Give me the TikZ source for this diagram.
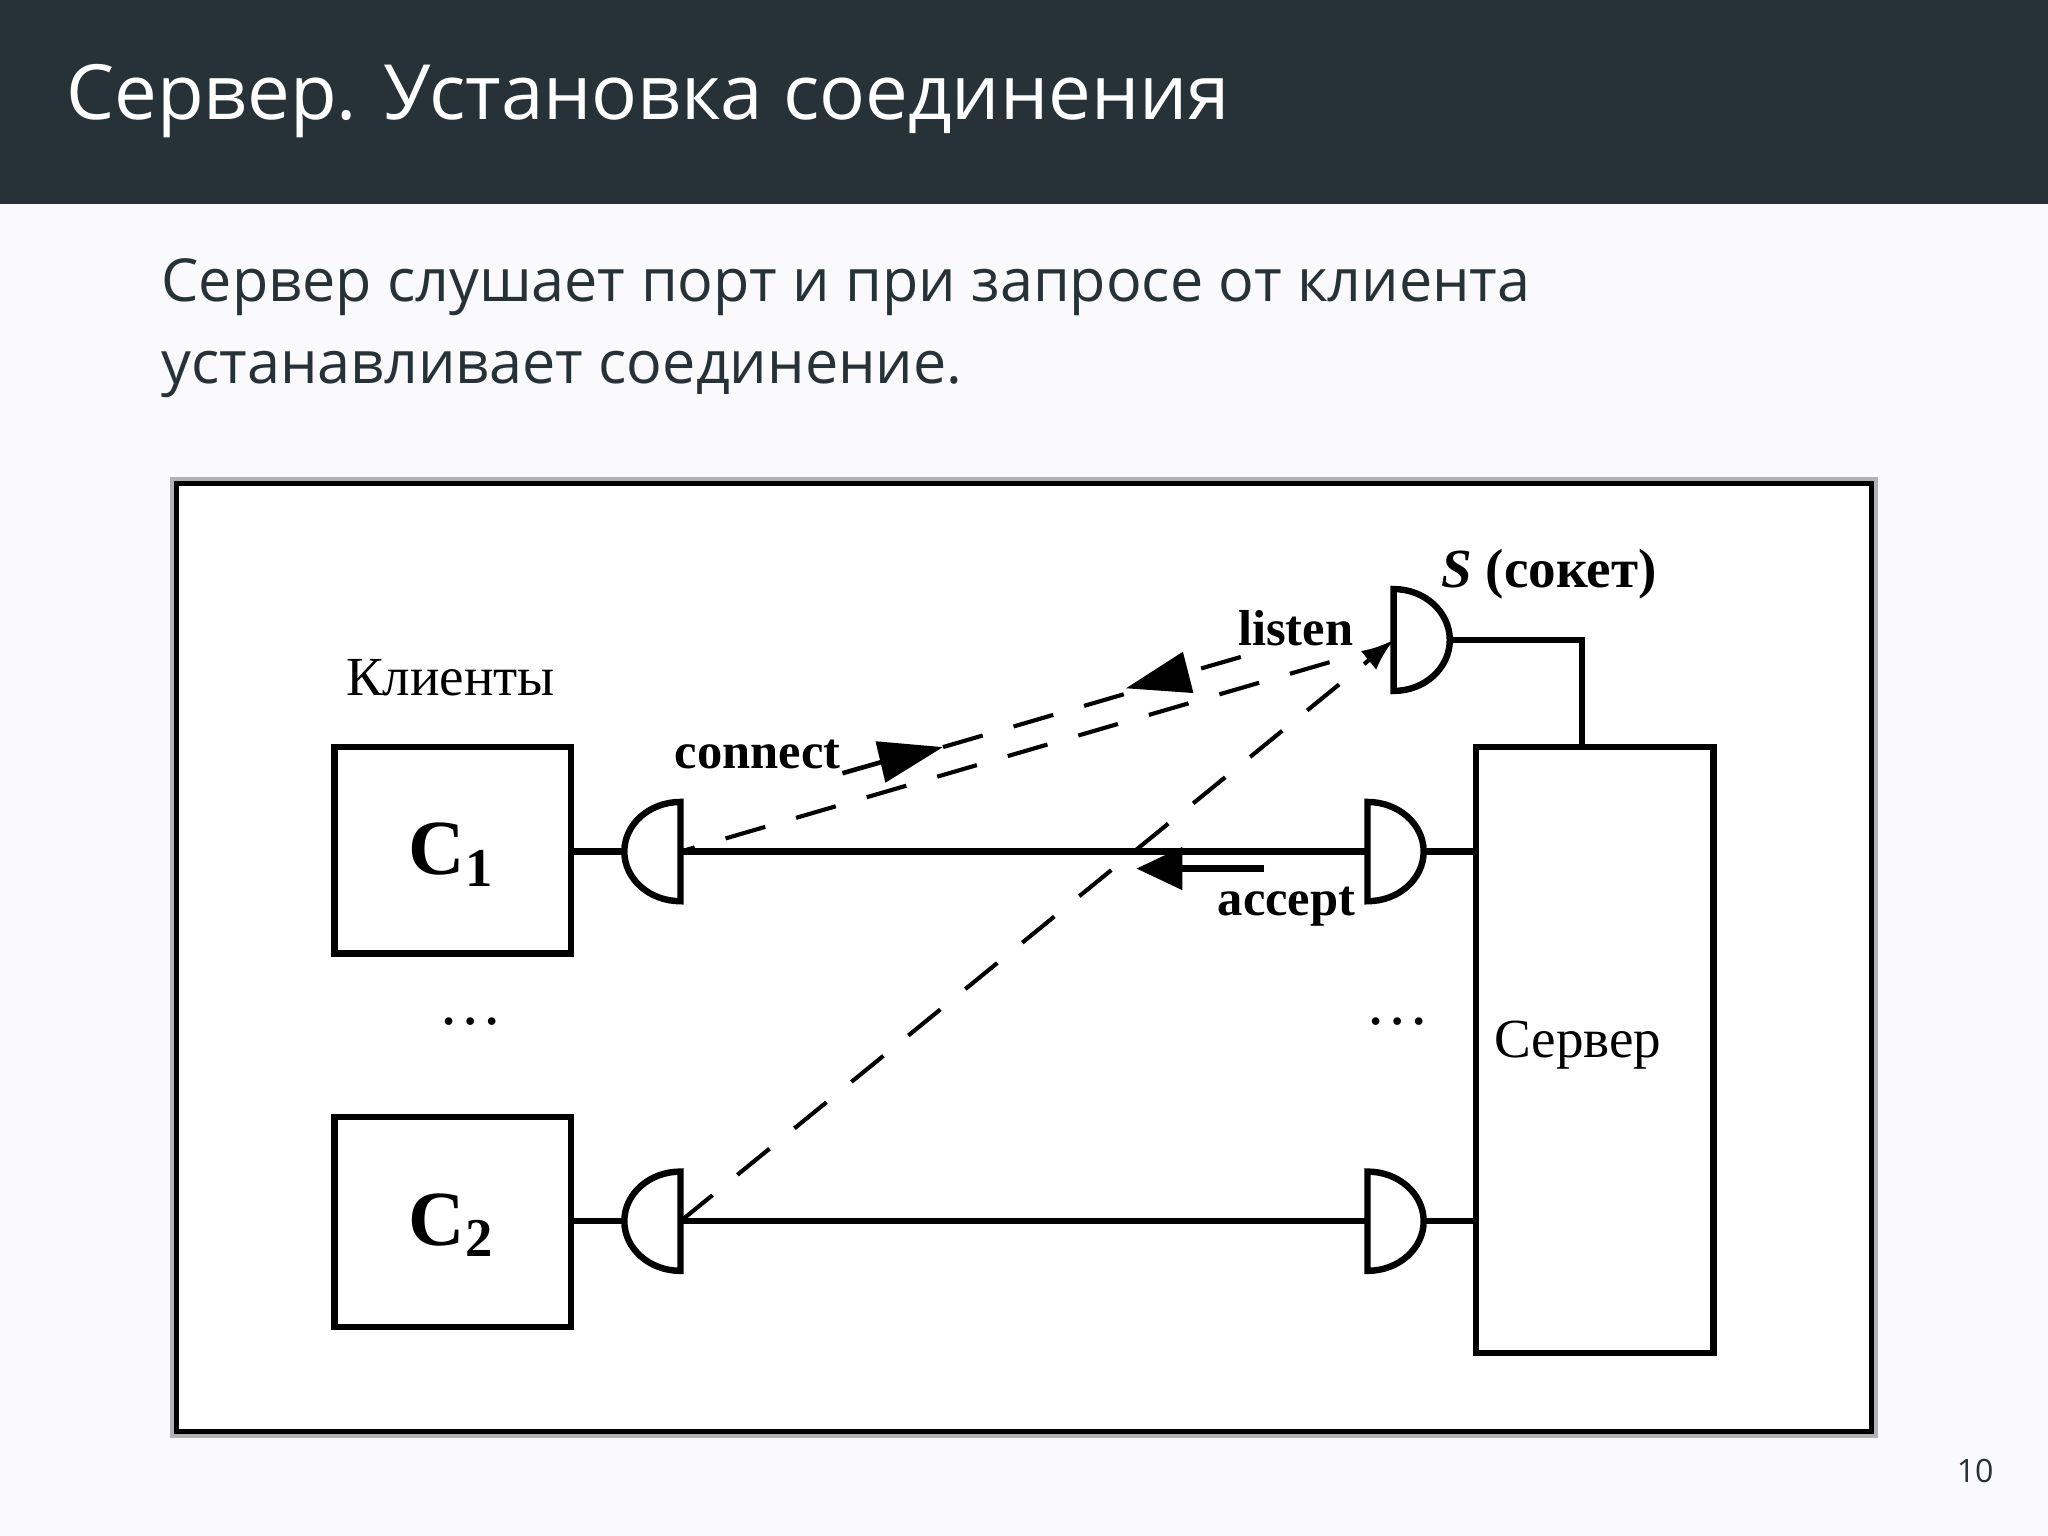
\documentclass[tikz,border=0pt]{standalone}
\usepackage{fontspec}
\setmainfont{Liberation Serif}
\newfontfamily\sansf{Open Sans}
\usetikzlibrary{arrows.meta}
\definecolor{hdr}{HTML}{263238}
\definecolor{bg}{HTML}{FAF9FC}
\begin{document}
\begin{tikzpicture}[x=0.01cm,y=-0.01cm,
 sock/.style={line width=1.4pt},
 dsh/.style={line width=0.9pt,dash pattern=on 9pt off 7pt},
 lbl/.style={font=\bfseries\fontsize{11}{12}\selectfont,inner sep=0pt},
 box/.style={draw,line width=1.4pt,inner sep=0pt}]
\fill[bg] (0,0) rectangle (1568,1176);
\useasboundingbox (0,0) rectangle (1568,1176);
\fill[hdr] (0,0) rectangle (1568,156);
\node[anchor=west,inner sep=0pt,text=white,font=\sansf\fontsize{16.6}{20}\selectfont] (title) at (50,77) {Сервер. Установка соединения};
\node[anchor=west,inner sep=0pt,text=hdr,font=\sansf\fontsize{12.9}{14}\selectfont] (t1) at (123,220) {Сервер слушает порт и при запросе от клиента};
\node[anchor=west,inner sep=0pt,text=hdr,font=\sansf\fontsize{12.9}{14}\selectfont] (t2) at (123,287) {устанавливает соединение.};
\node[anchor=east,inner sep=0pt,text=hdr,font=\sansf\fontsize{7}{8}\selectfont] (pg) at (1527,1126) {10};
% frame
\draw[gray!60,line width=1.2pt,fill=white] (132,367) rectangle (1436,1099);
\draw[line width=1.2pt] (135,370) rectangle (1433,1096);
% clients
\node[box,minimum width=181*0.01cm,minimum height=158*0.01cm] (c1) at (346.5,651) {};
\node[font=\bfseries\fontsize{17}{18}\selectfont] at (346,654) {C$_{\mathbf 1}$};
\node[box,minimum width=181*0.01cm,minimum height=161*0.01cm] (c2) at (346.5,935.5) {};
\node[font=\bfseries\fontsize{17}{18}\selectfont] at (346,938) {C$_{\mathbf 2}$};
\node[font=\fontsize{12}{14}\selectfont] (kl) at (345,519) {Клиенты};
\node[font=\fontsize{14}{14}\selectfont] at (360,782) {\dots};
\node[font=\fontsize{14}{14}\selectfont] at (1070,782) {\dots};
% server
\node[box,minimum width=182*0.01cm,minimum height=464*0.01cm] (srv) at (1221,804) {};
\node[font=\fontsize{12}{14}\selectfont] at (1208,800) {Сервер};
% client sockets
\coordinate (cs1) at (521,652); \coordinate (cs2) at (521,935);
\draw[sock] (521,690) arc[start angle=90,end angle=270,x radius=43,y radius=38] -- cycle;
\draw[sock] (521,973) arc[start angle=90,end angle=270,x radius=43,y radius=38] -- cycle;
\draw[sock] (437,652) -- (478,652);
\draw[sock] (437,935) -- (478,935);
% server sockets
\coordinate (ss1) at (1047,652); \coordinate (ss2) at (1047,935);
\draw[sock] (1047,690) arc[start angle=90,end angle=-90,x radius=43,y radius=38] -- cycle;
\draw[sock] (1047,973) arc[start angle=90,end angle=-90,x radius=43,y radius=38] -- cycle;
\draw[sock] (1090,652) -- (1130,652);
\draw[sock] (1090,935) -- (1130,935);
\draw[sock] (cs1) -- (ss1);
\draw[sock] (cs2) -- (ss2);
% S socket
\coordinate (s) at (1067,490);
\draw[sock] (1067,529) arc[start angle=90,end angle=-90,x radius=43,y radius=39] -- cycle;
\draw[sock] (1110,490) -| (1211,572);
\node[lbl,font=\bfseries\fontsize{12}{14}\selectfont] (sl) at (1186,440) {\textit{S} (сокет)};
% dashed
\draw[dsh] (1018,507) -- (cs1);
\draw[dsh,-{Latex[length=7pt]}] (cs2) -- (s);
\draw[dsh] (950,503) -- (905,516);
\draw[line width=1pt,-{Triangle[length=14pt,width=9pt]}] (905,516) -- (862,527);
\draw[dsh] (722,572) -- (900,520);
\draw[line width=1pt] (645,592) -- (680,582);
\draw[line width=1pt,-{Triangle[length=14pt,width=9pt]}] (680,582) -- (722,572);
\draw[line width=1.4pt,-{Triangle[length=10pt,width=9pt]}] (968,665) -- (870,665);
\node[lbl] (li) at (992,481) {listen};
\node[lbl] (co) at (580,578) {connect};
\node[lbl] (ac) at (985,694) {accept};
\end{tikzpicture}
\end{document}
